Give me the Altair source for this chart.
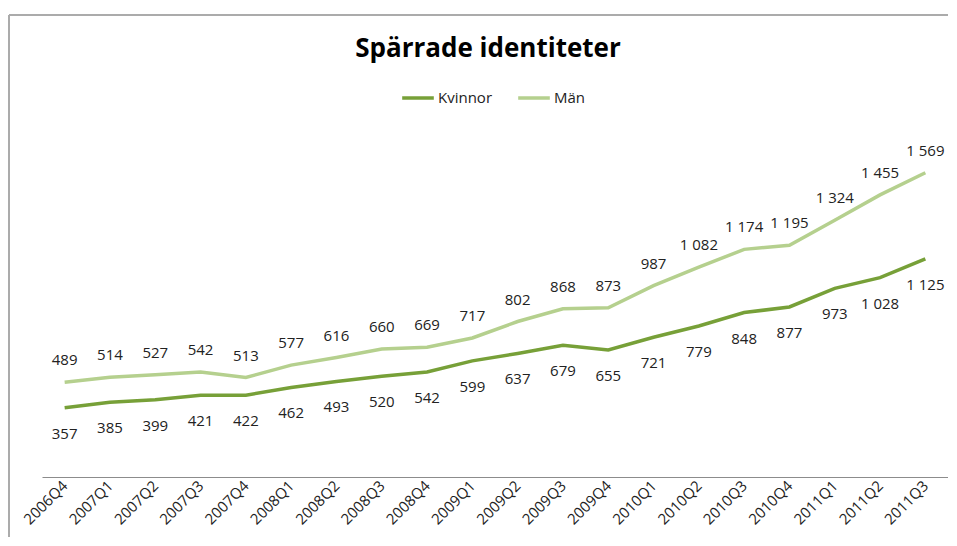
import altair as alt
import pandas as pd

quarters = ["2006Q4", "2007Q1", "2007Q2", "2007Q3", "2007Q4", "2008Q1", "2008Q2", "2008Q3",
            "2008Q4", "2009Q1", "2009Q2", "2009Q3", "2009Q4", "2010Q1", "2010Q2", "2010Q3",
            "2010Q4", "2011Q1", "2011Q2", "2011Q3"]
kvinnor = [357, 385, 399, 421, 422, 462, 493, 520, 542, 599, 637, 679, 655, 721, 779, 848,
           877, 973, 1028, 1125]
man = [489, 514, 527, 542, 513, 577, 616, 660, 669, 717, 802, 868, 873, 987, 1082, 1174,
       1195, 1324, 1455, 1569]
series = ["Kvinnor", "Män"]
colors = ["#77A038", "#B5D08E"]
title_text = "Spärrade identiteter"


def fmt(v):
    return f"{v:,}".replace(",", "\u00a0")


rows = []
for q, k, m in zip(quarters, kvinnor, man):
    rows.append({"Kvartal": q, "Serie": "Kvinnor", "Antal": k, "Etikett": fmt(k)})
    rows.append({"Kvartal": q, "Serie": "Män", "Antal": m, "Etikett": fmt(m)})
df = pd.DataFrame(rows)

FONT = "Open Sans"

x = alt.X("Kvartal:N", sort=quarters, title=None,
          scale=alt.Scale(paddingInner=0, paddingOuter=0.5, align=0.5),
          axis=alt.Axis(labelAngle=-45, labelAlign="right", labelBaseline="middle",
                        labelFont=FONT, labelFontSize=15, labelColor="#222222",
                        labelPadding=6, ticks=False, domainColor="#8C8C8C",
                        domainWidth=1.2, grid=False, labelOverlap=False))
y = alt.Y("Antal:Q", title=None, scale=alt.Scale(domain=[0, 1800]), axis=None)
color = alt.Color("Serie:N", scale=alt.Scale(domain=series, range=colors),
                  legend=alt.Legend(title=None, orient="none", direction="horizontal",
                                    legendX=358, legendY=-48, symbolType="stroke",
                                    symbolSize=1000, symbolStrokeWidth=3.5,
                                    labelFont=FONT, labelFontSize=15, labelColor="#222222",
                                    labelOffset=2, columnPadding=18))

base = alt.Chart(df)
lines = base.mark_line(strokeWidth=3.5).encode(x=x, y=y, color=color)

lab_k = base.transform_filter(alt.datum.Serie == "Kvinnor").mark_text(
    font=FONT, fontSize=15, color="#222222", dy=26, baseline="middle"
).encode(x=x, y=y, text="Etikett:N")
lab_m = base.transform_filter(alt.datum.Serie == "Män").mark_text(
    font=FONT, fontSize=15, color="#222222", dy=-22, baseline="middle"
).encode(x=x, y=y, text="Etikett:N")

one = alt.Data(values=[{"t": title_text}])
frame_top = alt.Chart(one).mark_rule(color="#ABABAB", strokeWidth=2).encode(
    x=alt.value(-33), x2=alt.value(910), y=alt.value(-113))
frame_left = alt.Chart(one).mark_rule(color="#ABABAB", strokeWidth=2).encode(
    x=alt.value(-33), y=alt.value(-113), y2=alt.value(420))
title = alt.Chart(one).mark_text(font=FONT, fontSize=26, fontWeight="bold", color="#000000",
                                 baseline="middle", align="center").encode(
    x=alt.value(446), y=alt.value(-79), text="t:N")

chart = alt.layer(frame_top, frame_left, title, lines, lab_k, lab_m).properties(
    width=906, height=349,
    autosize=alt.AutoSizeParams(type="none"),
    padding={"left": 34, "top": 120, "right": 0, "bottom": 60},
).configure_view(stroke=None)

chart.save("out.html", embed_options={"renderer": "svg", "actions": False})
